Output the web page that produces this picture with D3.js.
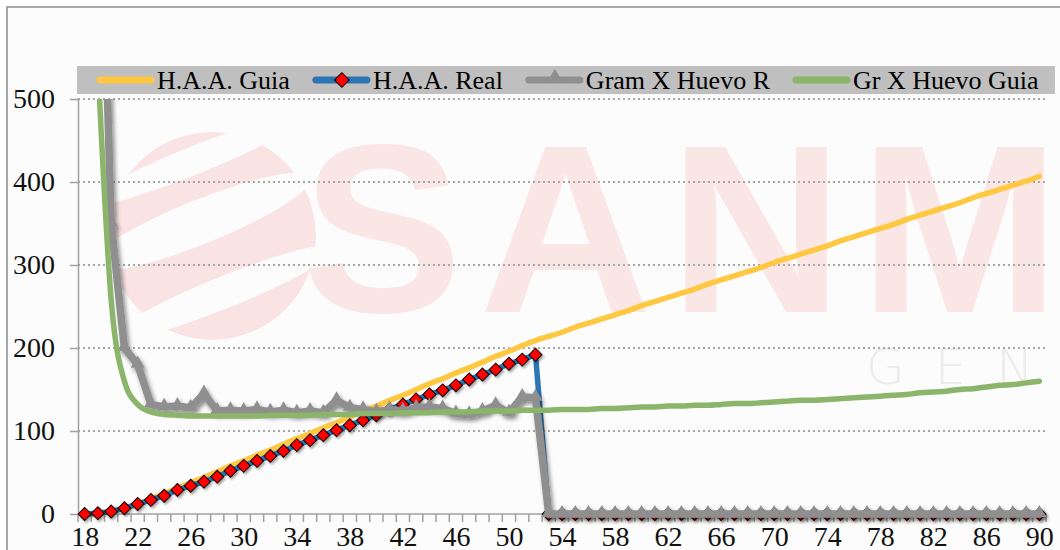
<!DOCTYPE html>
<html>
<head>
<meta charset="utf-8">
<script src="https://d3js.org/d3.v7.min.js"></script>
<style>
  html, body { margin: 0; padding: 0; background: #ffffff; }
  svg { display: block; }
</style>
</head>
<body>
<svg id="chart" width="1060" height="550"></svg>
<script>
// ---------------- data ----------------
const weeks = [18,19,20,21,22,23,24,25,26,27,28,29,30,31,32,33,34,35,36,37,38,39,40,41,42,43,44,45,46,47,48,49,50,51,52,53,54,55,56,57,58,59,60,61,62,63,64,65,66,67,68,69,70,71,72,73,74,75,76,77,78,79,80,81,82,83,84,85,86,87,88,89,90];
const xTickLabels = [18,22,26,30,34,38,42,46,50,54,58,62,66,70,74,78,82,86,90];
const yTicks = [0,100,200,300,400,500];

const seriesNames = ["H.A.A. Guia","H.A.A. Real","Gram X Huevo R","Gr X Huevo Guia"];

const haaGuia = [0,1,3,7,12,18,25,31,38,44,51,58,64,71,77,84,91,97,104,110,117,124,130,137,143,150,157,163,170,176,183,190,196,203,209,
  214,219,225,230,235,240,245,251,256,261,266,271,277,282,287,292,297,303,308,313,318,323,329,334,339,344,349,355,360,365,370,375,381,386,391,396,401,407];

const haaReal = [0,1,3,7,12,17,22,29,34,39,45,52,58,64,70,76,83,89,95,101,107,113,119,126,132,138,144,149,155,162,168,174,181,186,192,
  0,0,0,0,0,0,0,0,0,0,0,0,0,0,0,0,0,0,0,0,0,0,0,0,0,0,0,0,0,0,0,0,0,0,0,0,0,0];

const gramHuevoR = [null,900,350,200,180,132,129,130,128,145,124,125,124,126,123,125,122,124,122,137,128,126,123,126,124,128,129,127,121,120,124,131,122,141,140,
  0,0,0,0,0,0,0,0,0,0,0,0,0,0,0,0,0,0,0,0,0,0,0,0,0,0,0,0,0,0,0,0,0,0,0,0,0,0];

const grHuevoGuia = [null,540,258,160,132,123,120,119,118,118,118,118,118,118,119,119,119,119,120,120,120,121,121,121,122,122,122,123,123,123,124,124,124,125,125,
  125,126,126,126,127,127,128,129,129,130,130,131,131,132,133,133,134,135,136,137,137,138,139,140,141,142,143,144,146,147,148,150,151,153,155,156,158,160,162];

// ---------------- setup ----------------
const svg = d3.select("#chart");
const W = 1060, H = 550;
const plot = { left: 78, right: 1046, top: 99, bottom: 514 };
const FONT = "'Liberation Serif', 'Times New Roman', serif";

const colors = {
  guia: "#fec843",
  real: "#2e75b6",
  gram: "#8f8f8f",
  green: "#8bb56b",
  grid: "#a6a6a6",
  axis: "#a0a0a0"
};

const x = d3.scalePoint().domain(weeks).range([plot.left, plot.right]).padding(0.5);
const xBand = d3.scaleBand().domain(weeks).range([plot.left, plot.right]);
const y = d3.scaleLinear().domain([0, 500]).range([plot.bottom, plot.top]);

const defs = svg.append("defs");
const shadow = defs.append("filter").attr("id", "shadow")
  .attr("x", "-20%").attr("y", "-20%").attr("width", "140%").attr("height", "140%");
shadow.append("feDropShadow").attr("dx", 2).attr("dy", 3).attr("stdDeviation", 2.2)
  .attr("flood-color", "#000").attr("flood-opacity", 0.45);
const shadowSmall = defs.append("filter").attr("id", "shadowSmall")
  .attr("x", "-50%").attr("y", "-50%").attr("width", "200%").attr("height", "200%");
shadowSmall.append("feDropShadow").attr("dx", 1.5).attr("dy", 2).attr("stdDeviation", 1.2)
  .attr("flood-color", "#000").attr("flood-opacity", 0.35);
defs.append("clipPath").attr("id", "plotClip")
  .append("rect").attr("x", 0).attr("y", plot.top).attr("width", W).attr("height", H - plot.top);
const logoClip = defs.append("clipPath").attr("id", "logoClip");
logoClip.append("circle").attr("cx", 212).attr("cy", 236).attr("r", 104);

// chart background + border
svg.append("rect").attr("x", 7).attr("y", 7).attr("width", W).attr("height", H)
  .attr("fill", "#fcfcfc").attr("stroke", "#8a8a8a").attr("stroke-width", 1.5);

// ---------------- watermark ----------------
const wm = svg.append("g").attr("class", "watermark");
const logo = wm.append("g").attr("clip-path", "url(#logoClip)");
logo.append("circle").attr("cx", 212).attr("cy", 236).attr("r", 104).attr("fill", "#fae3e3");
logo.append("ellipse").attr("cx", 200).attr("cy", 222).attr("rx", 120).attr("ry", 22)
  .attr("transform", "rotate(-22,200,222)").attr("fill", "#fcfcfc");
logo.append("ellipse").attr("cx", 225).attr("cy", 292).attr("rx", 120).attr("ry", 16)
  .attr("transform", "rotate(-22,225,292)").attr("fill", "#fcfcfc");
logo.append("ellipse").attr("cx", 195).attr("cy", 160).attr("rx", 120).attr("ry", 14)
  .attr("transform", "rotate(-22,195,160)").attr("fill", "#fcfcfc");
wm.append("text").attr("x", 302).attr("y", 312)
  .attr("font-family", "'Liberation Sans', Arial, sans-serif").attr("font-weight", "bold")
  .attr("font-size", 240).attr("letter-spacing", 17).attr("fill", "#fbe6e6").text("SANM");
wm.append("text").attr("x", 866).attr("y", 384)
  .attr("font-family", "'DejaVu Sans', sans-serif").attr("font-weight", "200")
  .attr("font-size", 50).attr("letter-spacing", 30).attr("fill", "#ececec").text("GEN");

// ---------------- grid ----------------
svg.append("g").selectAll("line").data(yTicks.filter(d => d > 0)).join("line")
  .attr("x1", plot.left).attr("x2", plot.right)
  .attr("y1", d => y(d)).attr("y2", d => y(d))
  .attr("stroke", colors.grid).attr("stroke-width", 2).attr("stroke-dasharray", "2,3");

// ---------------- axes ----------------
const yAxis = svg.append("g").attr("transform", `translate(${plot.left},0)`)
  .call(d3.axisLeft(y).tickValues(yTicks).tickSize(8).tickPadding(15).tickSizeOuter(0));
yAxis.select(".domain").attr("stroke", colors.axis).attr("stroke-width", 1.5);
yAxis.selectAll(".tick line").attr("stroke", colors.axis).attr("stroke-width", 1.5);
yAxis.selectAll("text").attr("font-family", FONT).attr("font-size", 28).attr("fill", "#111");

const xAxis = svg.append("g").attr("transform", `translate(0,${plot.bottom})`)
  .call(d3.axisBottom(x).tickValues(xTickLabels).tickSize(0).tickPadding(12).tickSizeOuter(0));
xAxis.select(".domain").attr("stroke", colors.axis).attr("stroke-width", 1.5)
  .attr("d", `M${plot.left},0H${plot.right}`);
xAxis.selectAll("text").attr("font-family", FONT).attr("font-size", 28).attr("fill", "#111");
// category tick marks between points
const catEdges = weeks.map(w => xBand(w)).concat([plot.right]);
svg.append("g").selectAll("line").data(catEdges).join("line")
  .attr("x1", d => d).attr("x2", d => d)
  .attr("y1", plot.bottom).attr("y2", plot.bottom + 8)
  .attr("stroke", colors.axis).attr("stroke-width", 1.5);

// ---------------- series ----------------
const series = svg.append("g").attr("clip-path", "url(#plotClip)");

const lineStraight = d3.line()
  .defined(d => d.v !== null)
  .x(d => x(d.w)).y(d => y(d.v));
const lineSmooth = d3.line()
  .defined(d => d.v !== null)
  .x(d => x(d.w)).y(d => y(d.v)).curve(d3.curveMonotoneX);

const toPts = arr => weeks.map((w, i) => ({ w, v: arr[i] }));

// H.A.A. Guia
series.append("path").datum(toPts(haaGuia)).attr("d", lineSmooth)
  .attr("fill", "none").attr("stroke", colors.guia).attr("stroke-width", 5.5)
  .attr("stroke-linecap", "round").attr("stroke-linejoin", "round");

// H.A.A. Real
series.append("path").datum(toPts(haaReal)).attr("d", lineStraight)
  .attr("fill", "none").attr("stroke", colors.real).attr("stroke-width", 5.5)
  .attr("stroke-linecap", "round").attr("stroke-linejoin", "round");
const diamond = d3.symbol().type(d3.symbolSquare).size(84);
series.append("g").attr("filter", "url(#shadowSmall)")
  .selectAll("path").data(toPts(haaReal)).join("path")
  .attr("d", diamond)
  .attr("transform", d => `translate(${x(d.w)},${y(d.v)}) rotate(45)`)
  .attr("fill", "#ff0000").attr("stroke", "#000").attr("stroke-width", 1);

// Gram X Huevo R
const gramG = series.append("g").attr("filter", "url(#shadow)");
gramG.append("path").datum(toPts(gramHuevoR)).attr("d", lineStraight)
  .attr("fill", "none").attr("stroke", colors.gram).attr("stroke-width", 7.5)
  .attr("stroke-linecap", "round").attr("stroke-linejoin", "round");
const tri = d3.symbol().type(d3.symbolTriangle).size(85);
gramG.selectAll("path.m").data(toPts(gramHuevoR).filter(d => d.v !== null)).join("path")
  .attr("class", "m")
  .attr("d", tri)
  .attr("transform", d => `translate(${x(d.w)},${y(d.v) - 1})`)
  .attr("fill", colors.gram);

// Gr X Huevo Guia
series.append("path").datum(toPts(grHuevoGuia)).attr("d", lineSmooth)
  .attr("fill", "none").attr("stroke", colors.green).attr("stroke-width", 5.5)
  .attr("stroke-linecap", "round").attr("stroke-linejoin", "round");

// ---------------- legend ----------------
const legendData = [
  { name: seriesNames[0], color: colors.guia, marker: null },
  { name: seriesNames[1], color: colors.real, marker: "diamond" },
  { name: seriesNames[2], color: colors.gram, marker: "triangle" },
  { name: seriesNames[3], color: colors.green, marker: null }
];
const legend = svg.append("g");
legend.append("rect").attr("x", 77).attr("y", 66).attr("width", 978).attr("height", 28)
  .attr("fill", "#bfbfbf");
let lx = 97;
legendData.forEach(item => {
  const g = legend.append("g");
  g.append("line").attr("x1", lx + 3).attr("x2", lx + 54).attr("y1", 80).attr("y2", 80)
    .attr("stroke", item.color).attr("stroke-width", 7).attr("stroke-linecap", "round");
  if (item.marker === "diamond") {
    g.append("path").attr("d", d3.symbol().type(d3.symbolSquare).size(110))
      .attr("transform", `translate(${lx + 29},80) rotate(45)`)
      .attr("fill", "#ff0000").attr("stroke", "#000").attr("stroke-width", 1);
  } else if (item.marker === "triangle") {
    g.append("path").attr("d", d3.symbol().type(d3.symbolTriangle).size(110))
      .attr("transform", `translate(${lx + 29},78)`).attr("fill", item.color);
  }
  const t = g.append("text").attr("x", lx + 60).attr("y", 89)
    .attr("font-family", FONT).attr("font-size", 26).attr("fill", "#000").text(item.name);
  lx = lx + 60 + t.node().getComputedTextLength() + 23;
});
</script>
</body>
</html>
